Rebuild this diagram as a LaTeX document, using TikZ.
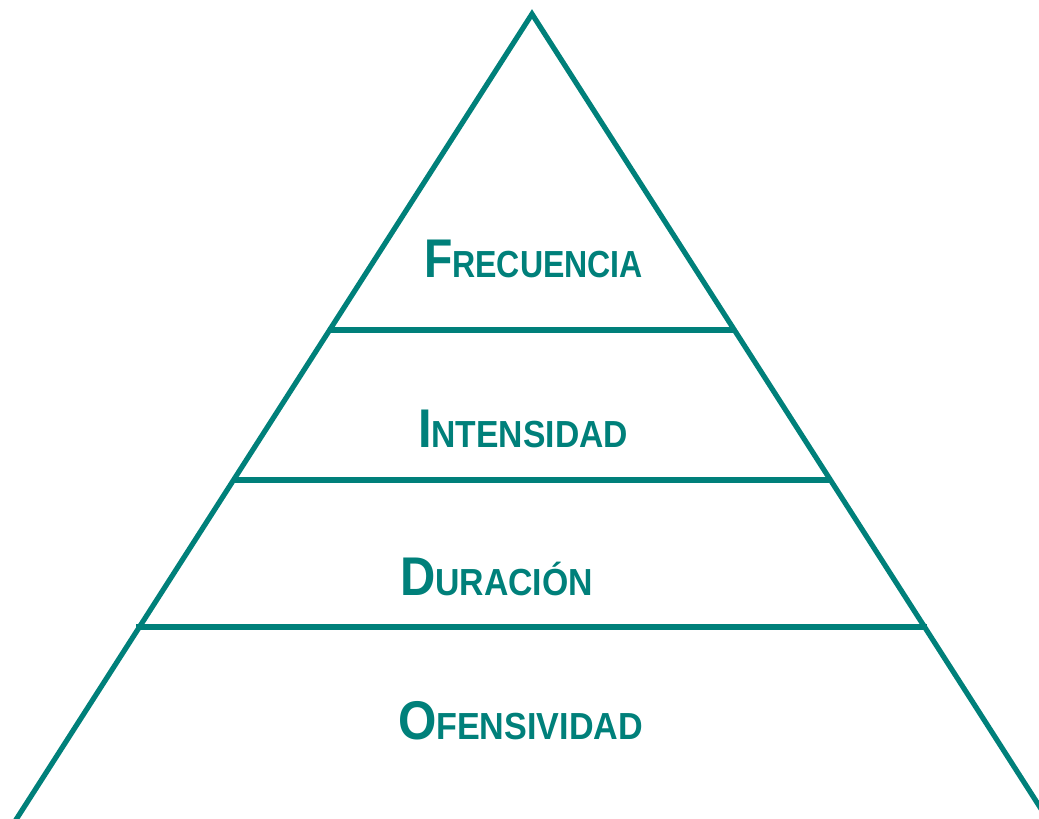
\documentclass[tikz,border=0pt]{standalone}
\usepackage{fontspec}
\setmainfont{Liberation Sans}
\usepackage{graphicx}
\definecolor{teal1}{RGB}{0,128,122}
\newcommand{\sctext}[3]{\resizebox{#1}{\height}{\bfseries{\fontsize{54.5}{60}\selectfont #2}{\fontsize{37.7}{40}\selectfont #3}}}
\tikzset{
  edge/.style={draw=teal1, line width=5.2pt},
  lbl/.style={anchor=base, inner sep=0pt, text=teal1}
}
\begin{document}
\begin{tikzpicture}[x=1pt,y=-1pt]
\useasboundingbox (0,0) rectangle (1039,819);
\begin{scope}
\clip (0,0) rectangle (1039,819);
\coordinate (apex) at (532,14);
\coordinate (bl) at (9.4,830);
\coordinate (br) at (1054.6,830);
\draw[edge, line join=miter] (bl) -- (apex) -- (br);
\coordinate (l1) at (328,330);
\coordinate (r1) at (735,330);
\coordinate (l2) at (232,480);
\coordinate (r2) at (832,480);
\coordinate (l3) at (136,627);
\coordinate (r3) at (927,627);
\draw[edge] (l1) -- (r1);
\draw[edge] (l2) -- (r2);
\draw[edge] (l3) -- (r3);
\end{scope}
\node[lbl] (frec) at (533.5,277) {\sctext{219pt}{F}{RECUENCIA}};
\node[lbl] (inte) at (523,447) {\sctext{210pt}{I}{NTENSIDAD}};
\node[lbl] (dura) at (496.5,595) {\sctext{193pt}{D}{URACIÓN}};
\node[lbl] (ofen) at (520.5,739) {\sctext{245pt}{O}{FENSIVIDAD}};
\end{tikzpicture}
\end{document}
